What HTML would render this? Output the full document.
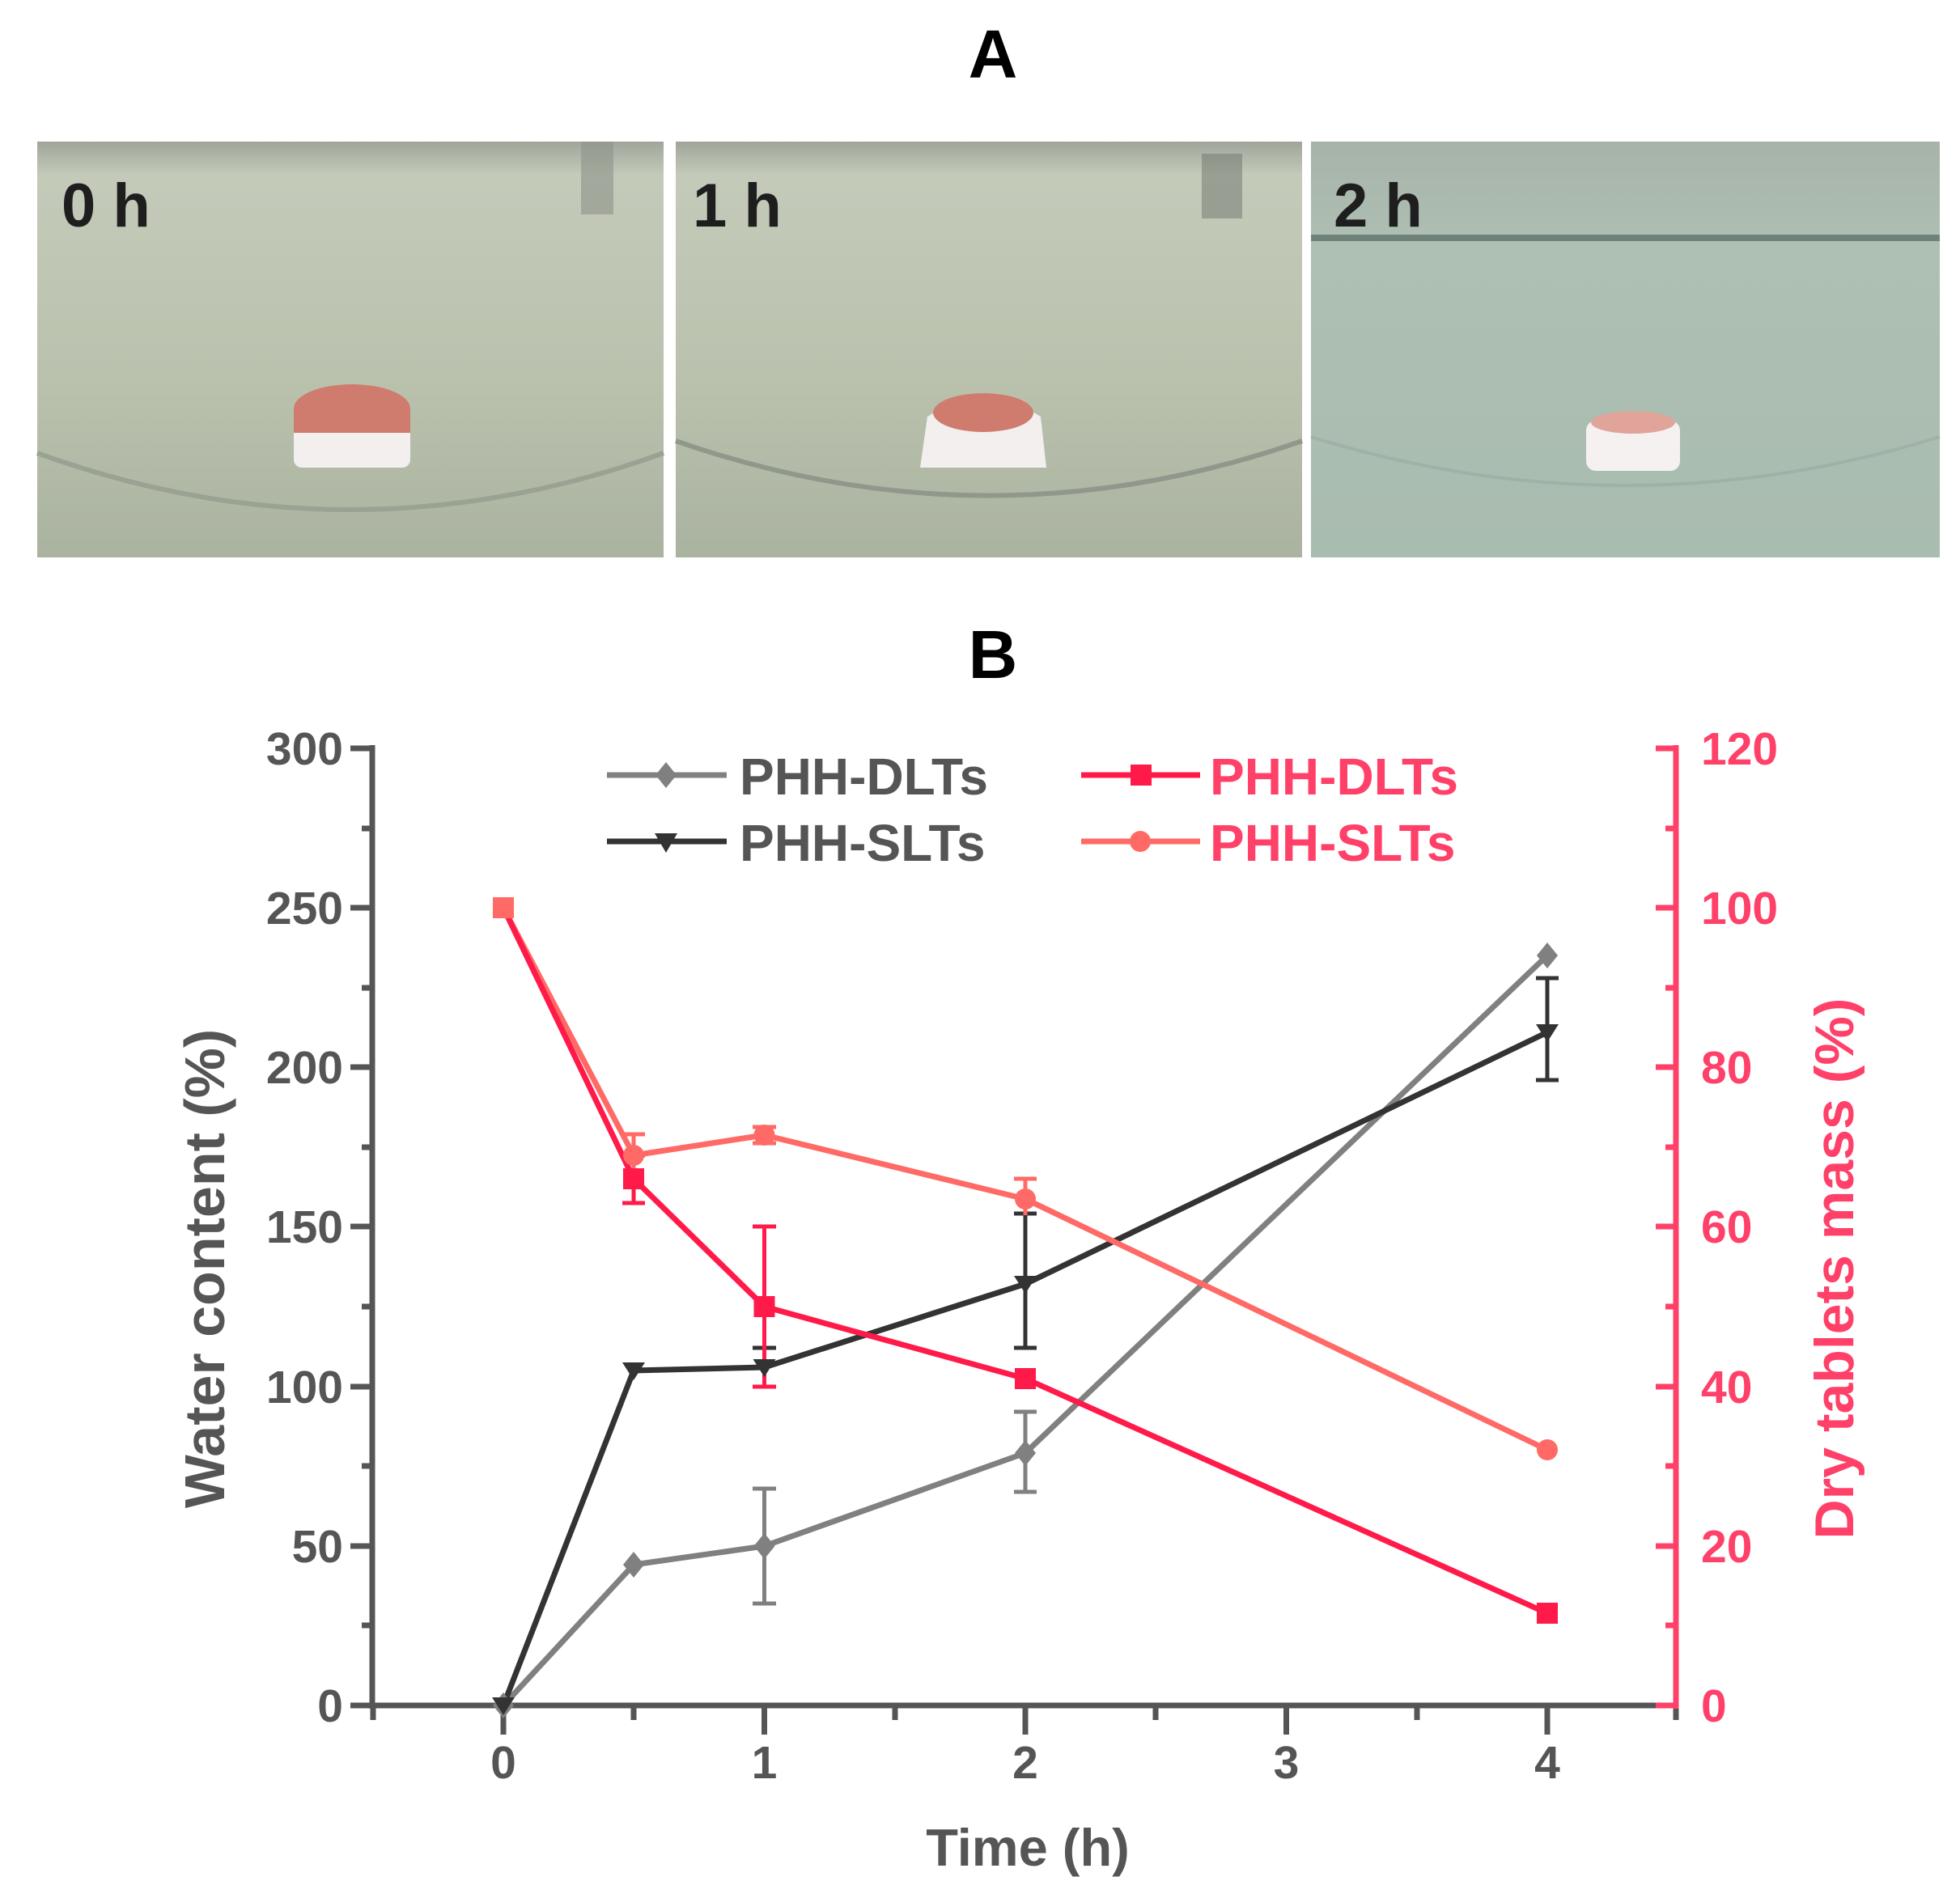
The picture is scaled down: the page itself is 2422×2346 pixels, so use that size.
<!DOCTYPE html>
<html><head><meta charset="utf-8"><style>
html,body{margin:0;padding:0;background:#fff;}
svg{display:block;}
text{font-family:"Liberation Sans",Arial,sans-serif;font-weight:bold;}
</style></head><body>
<svg width="2422" height="2346" viewBox="0 0 2422 2346" xmlns="http://www.w3.org/2000/svg">
<defs>
<linearGradient id="p1" x1="0" y1="0" x2="0" y2="1">
<stop offset="0" stop-color="#9fa59a"/><stop offset="0.08" stop-color="#c4cab9"/><stop offset="0.6" stop-color="#b9c1ad"/><stop offset="1" stop-color="#aab3a0"/></linearGradient>
<linearGradient id="p3" x1="0" y1="0" x2="0" y2="1">
<stop offset="0" stop-color="#a7b3a9"/><stop offset="0.25" stop-color="#aebfb3"/><stop offset="1" stop-color="#a9bcb0"/></linearGradient>
</defs>
<text x="1227" y="96" font-size="84" text-anchor="middle" fill="#000">A</text>
<!-- photos -->
<rect x="46" y="175" width="774" height="514" fill="url(#p1)"/>
<rect x="835" y="175" width="774" height="514" fill="url(#p1)"/>
<rect x="1620" y="175" width="777" height="514" fill="url(#p3)"/>
<path d="M46 560 Q433 700 820 560" stroke="#9aa393" stroke-width="6" fill="none"/>
<path d="M835 545 Q1222 680 1609 545" stroke="#8f988a" stroke-width="6" fill="none"/>
<path d="M1620 540 Q2008 660 2397 540" stroke="#9fb2a7" stroke-width="4" fill="none"/>
<rect x="1620" y="290" width="777" height="8" fill="#6f8279"/>
<rect x="718" y="175" width="40" height="90" fill="#8d9289" opacity="0.6"/>
<rect x="1485" y="190" width="50" height="80" fill="#6f746d" opacity="0.5"/>
<rect x="363" y="520" width="144" height="58" rx="10" fill="#f2efee"/>
<ellipse cx="435" cy="505" rx="72" ry="30" fill="#cf7c6e"/>
<rect x="363" y="505" width="144" height="30" fill="#cf7c6e"/>
<path d="M1137 578 L1146 515 Q1215 470 1286 515 L1293 578 Z" fill="#f2efee"/>
<ellipse cx="1215" cy="510" rx="62" ry="24" fill="#cf7c6e"/>
<rect x="1960" y="520" width="116" height="62" rx="12" fill="#f5f1f0"/>
<ellipse cx="2018" cy="522" rx="52" ry="14" fill="#e0a49a"/>
<text x="76" y="280" font-size="76" fill="#1e1e1e">0 h</text>
<text x="856" y="280" font-size="76" fill="#1e1e1e">1 h</text>
<text x="1648" y="280" font-size="76" fill="#1e1e1e">2 h</text>
<text x="1227" y="838" font-size="84" text-anchor="middle" fill="#000">B</text>

<!-- axes -->
<g stroke="#555" stroke-width="7" fill="none">
<line x1="460" y1="921" x2="460" y2="2112"/>
<line x1="456" y1="2108" x2="2071" y2="2108"/>
<path d="M460 925H433M460 1122H433M460 1319H433M460 1516H433M460 1714H433M460 1911H433M460 2108H433"/>
<path d="M460 1024H447M460 1221H447M460 1418H447M460 1615H447M460 1812H447M460 2009H447"/>
<path d="M622 2108V2144M944.5 2108V2144M1267 2108V2144M1589.5 2108V2144M1912 2108V2144"/>
<path d="M461 2108V2126M783 2108V2126M1106 2108V2126M1428 2108V2126M1751 2108V2126M2071 2108V2126"/>
</g>
<g stroke="#ff4068" stroke-width="7" fill="none">
<line x1="2071" y1="921" x2="2071" y2="2112"/>
<path d="M2071 925H2046M2071 1122H2046M2071 1319H2046M2071 1516H2046M2071 1714H2046M2071 1911H2046M2071 2108H2046"/>
<path d="M2071 1024H2058M2071 1221H2058M2071 1418H2058M2071 1615H2058M2071 1812H2058M2071 2009H2058"/>
</g>
<g font-size="57" fill="#555" text-anchor="end">
<text x="424" y="945">300</text><text x="424" y="1142">250</text><text x="424" y="1339">200</text>
<text x="424" y="1536">150</text><text x="424" y="1734">100</text><text x="424" y="1931">50</text><text x="424" y="2128">0</text>
</g>
<g font-size="57" fill="#ff4068">
<text x="2102" y="945">120</text><text x="2102" y="1142">100</text><text x="2102" y="1339">80</text>
<text x="2102" y="1536">60</text><text x="2102" y="1734">40</text><text x="2102" y="1931">20</text><text x="2102" y="2128">0</text>
</g>
<g font-size="57" fill="#555" text-anchor="middle">
<text x="622" y="2198">0</text><text x="944.5" y="2198">1</text><text x="1267" y="2198">2</text><text x="1589.5" y="2198">3</text><text x="1912" y="2198">4</text>
</g>
<text x="1270" y="2306" font-size="65" fill="#555" text-anchor="middle">Time (h)</text>
<text transform="translate(277,1568) rotate(-90)" font-size="70" fill="#555" text-anchor="middle">Water content (%)</text>
<text transform="translate(2290,1568) rotate(-90)" font-size="68" fill="#ff4068" text-anchor="middle">Dry tablets mass (%)</text>

<!-- error bars -->
<g stroke-width="5" fill="none">
<path stroke="#808080" d="M944.5 1982V1840M930 1982H959M930 1840H959M1267 1844V1745M1253 1844H1281M1253 1745H1281"/>
<path stroke="#333" d="M944.5 1710V1666M930 1666H959M1267 1666V1500M1253 1666H1281M1253 1500H1281M1912 1335V1209M1898 1335H1926M1898 1209H1926"/>
<path stroke="#ff1a4a" d="M783 1487V1428M769 1487H797M769 1428H797M944.5 1714V1516M930 1714H959M930 1516H959"/>
<path stroke="#ff6a66" d="M783 1447V1402M769 1402H797M944.5 1413V1393M930 1393H959M930 1413H959M1267 1502V1457M1253 1457H1281"/>
</g>
<!-- series -->
<g stroke-width="7" fill="none" stroke-linejoin="round">
<polyline stroke="#808080" points="622,2108 783,1934 944.5,1911 1267,1796 1912,1181"/>
<polyline stroke="#333" points="622,2108 783,1694 944.5,1690 1267,1587 1912,1276"/>
<polyline stroke="#ff6a66" points="622,1122 783,1428 944.5,1403 1267,1482 1912,1792"/>
<polyline stroke="#ff1a4a" points="622,1122 783,1457 944.5,1615 1267,1704 1912,1994"/>
</g>
<!-- markers -->
<g fill="#808080">
<path d="M622 2092L635 2108L622 2124L609 2108Z"/><path d="M783 1918L796 1934L783 1950L770 1934Z"/>
<path d="M944.5 1895L957.5 1911L944.5 1927L931.5 1911Z"/><path d="M1267 1780L1280 1796L1267 1812L1254 1796Z"/>
<path d="M1912 1165L1925 1181L1912 1197L1899 1181Z"/>
</g>
<g fill="#333">
<path d="M608 2098H636L622 2120Z"/><path d="M769 1684H797L783 1706Z"/><path d="M930.5 1680H958.5L944.5 1702Z"/>
<path d="M1253 1577H1281L1267 1599Z"/><path d="M1898 1266H1926L1912 1288Z"/>
</g>
<g fill="#ff6a66">
<circle cx="783" cy="1428" r="13"/><circle cx="944.5" cy="1403" r="13"/><circle cx="1267" cy="1482" r="13"/><circle cx="1912" cy="1792" r="13"/>
</g>
<g fill="#ff1a4a">
<rect x="770" y="1444" width="26" height="26"/><rect x="931.5" y="1602" width="26" height="26"/><rect x="1254" y="1691" width="26" height="26"/><rect x="1899" y="1981" width="26" height="26"/>
</g>
<rect x="609" y="1109" width="26" height="26" fill="#ff6a66"/>

<!-- legend -->
<line x1="750" y1="958" x2="898" y2="958" stroke="#808080" stroke-width="7"/>
<path d="M823 942L836 958L823 974L810 958Z" fill="#808080"/>
<text x="914" y="982" font-size="64" fill="#555">PHH-DLTs</text>
<line x1="750" y1="1040" x2="898" y2="1040" stroke="#333" stroke-width="7"/>
<path d="M809 1030H837L823 1054Z" fill="#333"/>
<text x="914" y="1064" font-size="64" fill="#555">PHH-SLTs</text>
<line x1="1336" y1="958" x2="1483" y2="958" stroke="#ff1a4a" stroke-width="7"/>
<rect x="1397" y="945" width="26" height="26" fill="#ff1a4a"/>
<text x="1495" y="982" font-size="64" fill="#ff4068">PHH-DLTs</text>
<line x1="1336" y1="1040" x2="1483" y2="1040" stroke="#ff6a66" stroke-width="7"/>
<circle cx="1409" cy="1040" r="13" fill="#ff6a66"/>
<text x="1495" y="1064" font-size="64" fill="#ff4068">PHH-SLTs</text>
</svg>
</body></html>
